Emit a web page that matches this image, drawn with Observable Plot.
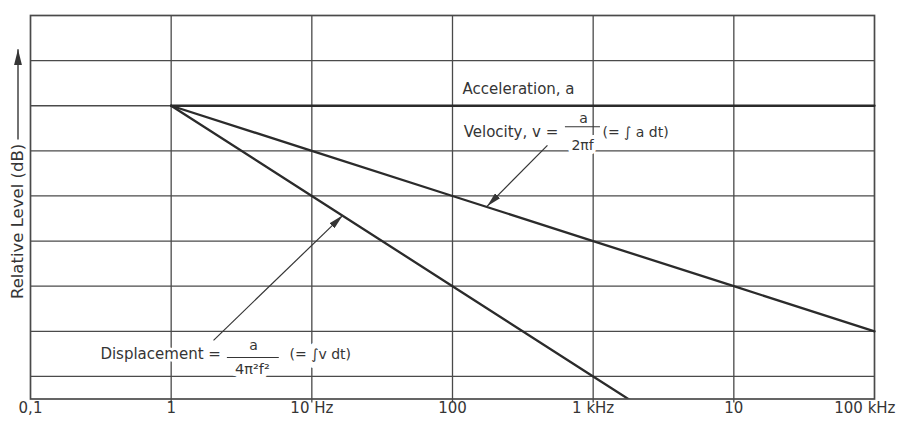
<!DOCTYPE html>
<html>
<head>
<meta charset="utf-8">
<script src="https://cdn.jsdelivr.net/npm/d3@7"></script>
<script src="https://cdn.jsdelivr.net/npm/@observablehq/plot@0.6"></script>
<style>
  html, body { margin: 0; padding: 0; background: #fff; }
</style>
</head>
<body>
<div id="chart"></div>
<script>
// Frequencies (Hz) at decade points
const freqs = [1, 10, 100, 1000, 10000, 100000];
// Relative levels (dB)
const acceleration = [0, 0, 0, 0, 0, 0];
const velocity = [0, -20, -40, -60, -80, -100];
const displacement = [0, -40, -80, -120, -160, -200];

// Axis ticks
const xTicks = [0.1, 1, 10, 100, 1000, 10000, 100000];
const xTickLabels = ["0,1", "1", "10 Hz", "100", "1 kHz", "10", "100 kHz"];
const yGrid = [-120, -100, -80, -60, -40, -20, 0, 20];

const ink = "#353535";
const gridColor = "#4a4a4a";

const rows = (ys) => freqs.map((f, i) => ({f, v: ys[i]}));
const tickRows = xTicks.map((t, i) => ({t, label: xTickLabels[i]}));

const plot = Plot.plot({
  width: 901,
  height: 421,
  marginLeft: 30,
  marginRight: 27,
  marginTop: 15,
  marginBottom: 22.5,
  x: {type: "log", domain: [0.1, 100000], axis: null},
  y: {domain: [-130, 40], axis: null},
  style: {fontFamily: "DejaVu Sans, sans-serif", fontSize: "15px", color: ink, background: "#fff"},
  marks: [
    // grid
    Plot.ruleY(yGrid, {stroke: gridColor, strokeWidth: 1.3}),
    Plot.ruleX(xTicks.slice(1, -1), {stroke: gridColor, strokeWidth: 1.3, insetBottom: -4}),
    Plot.frame({stroke: gridColor, strokeWidth: 1.7}),
    // tick labels
    Plot.text(tickRows.slice(0, -1), {x: "t", text: "label", frameAnchor: "bottom", dy: 14, fill: ink, fontSize: 15}),
    Plot.text(tickRows.slice(-1), {x: "t", text: "label", frameAnchor: "bottom", dy: 14, dx: 21, textAnchor: "end", fill: ink, fontSize: 15}),
    // y label
    Plot.text(["Relative Level (dB)"], {x: 0.0815, y: -51.3, rotate: -90, text: d => d, fill: ink, fontSize: 16.5}),
    Plot.link([0], {x1: 0.0815, x2: 0.0815, y1: -15.0, y2: 25.0, stroke: ink, strokeWidth: 1.4, className: "annot-arrow big"}),
    // labels (with white halo breaking grid lines)
    Plot.text(["Acceleration, a"], {x: 118, y: 7.2, text: d => d, textAnchor: "start", fill: ink, stroke: "#fff", strokeWidth: 4}),
    Plot.text(["Velocity, v ="], {x: 120, y: -11.9, text: d => d, textAnchor: "start", fill: ink, stroke: "#fff", strokeWidth: 4}),
    Plot.text(["a"], {x: 853, y: -5.5, text: d => d, fill: ink, fontSize: 14, stroke: "#fff", strokeWidth: 4}),
    Plot.text(["2πf"], {x: 840, y: -17.6, text: d => d, fill: ink, fontSize: 14, stroke: "#fff", strokeWidth: 8}),
    Plot.ruleY([-9.3], {x1: 635, x2: 1127, stroke: ink, strokeWidth: 1.1}),
    Plot.text(["(= ∫ a dt)"], {x: 1164, y: -11.9, text: d => d, textAnchor: "start", fill: ink, fontSize: 14, stroke: "#fff", strokeWidth: 4}),
    Plot.text(["Displacement ="], {x: 0.314, y: -110.3, text: d => d, textAnchor: "start", fill: ink, stroke: "#fff", strokeWidth: 5}),
    Plot.text(["a"], {x: 3.85, y: -106.3, text: d => d, fill: ink, fontSize: 14, stroke: "#fff", strokeWidth: 4}),
    Plot.ruleY([-111.6], {x1: 2.51, x2: 5.87, stroke: ink, strokeWidth: 1.1}),
    Plot.text(["4π²f²"], {x: 3.78, y: -117, text: d => d, fill: ink, fontSize: 14.5, stroke: "#fff", strokeWidth: 10}),
    Plot.text(["(= ∫v dt)"], {x: 6.94, y: -110.3, text: d => d, textAnchor: "start", fill: ink, fontSize: 14, stroke: "#fff", strokeWidth: 12}),
    // data lines
    Plot.line(rows(acceleration), {x: "f", y: "v", stroke: "#2b2b2b", strokeWidth: 2.3}),
    Plot.line(rows(velocity), {x: "f", y: "v", stroke: "#2b2b2b", strokeWidth: 2.3}),
    Plot.line(rows(displacement), {x: "f", y: "v", stroke: "#2b2b2b", strokeWidth: 2.3, clip: true}),
    // annotation arrows
    Plot.link([0], {x1: 473, y1: -17.6, x2: 176, y2: -44.6, stroke: ink, strokeWidth: 1.2, className: "annot-arrow"}),
    Plot.link([0], {x1: 2.0, y1: -104, x2: 16.6, y2: -48.6, stroke: ink, strokeWidth: 1.2, className: "annot-arrow"})
  ]
});

// filled arrowheads
const svg = d3.select(plot);
const defs = svg.insert("defs", ":first-child");
function addMarker(id, len, wid) {
  defs.append("marker")
    .attr("id", id)
    .attr("viewBox", `0 0 ${len} ${wid}`)
    .attr("refX", len).attr("refY", wid / 2)
    .attr("markerWidth", len).attr("markerHeight", wid)
    .attr("markerUnits", "userSpaceOnUse")
    .attr("orient", "auto")
    .append("path").attr("d", `M0,0L${len},${wid / 2}L0,${wid}Z`).attr("fill", ink);
}
addMarker("ahead", 15, 7);
addMarker("ahead-big", 16, 8);
svg.selectAll(".annot-arrow path").attr("marker-end", "url(#ahead)");
svg.selectAll(".annot-arrow.big path").attr("marker-end", "url(#ahead-big)");

document.getElementById("chart").appendChild(plot);
</script>
</body>
</html>
